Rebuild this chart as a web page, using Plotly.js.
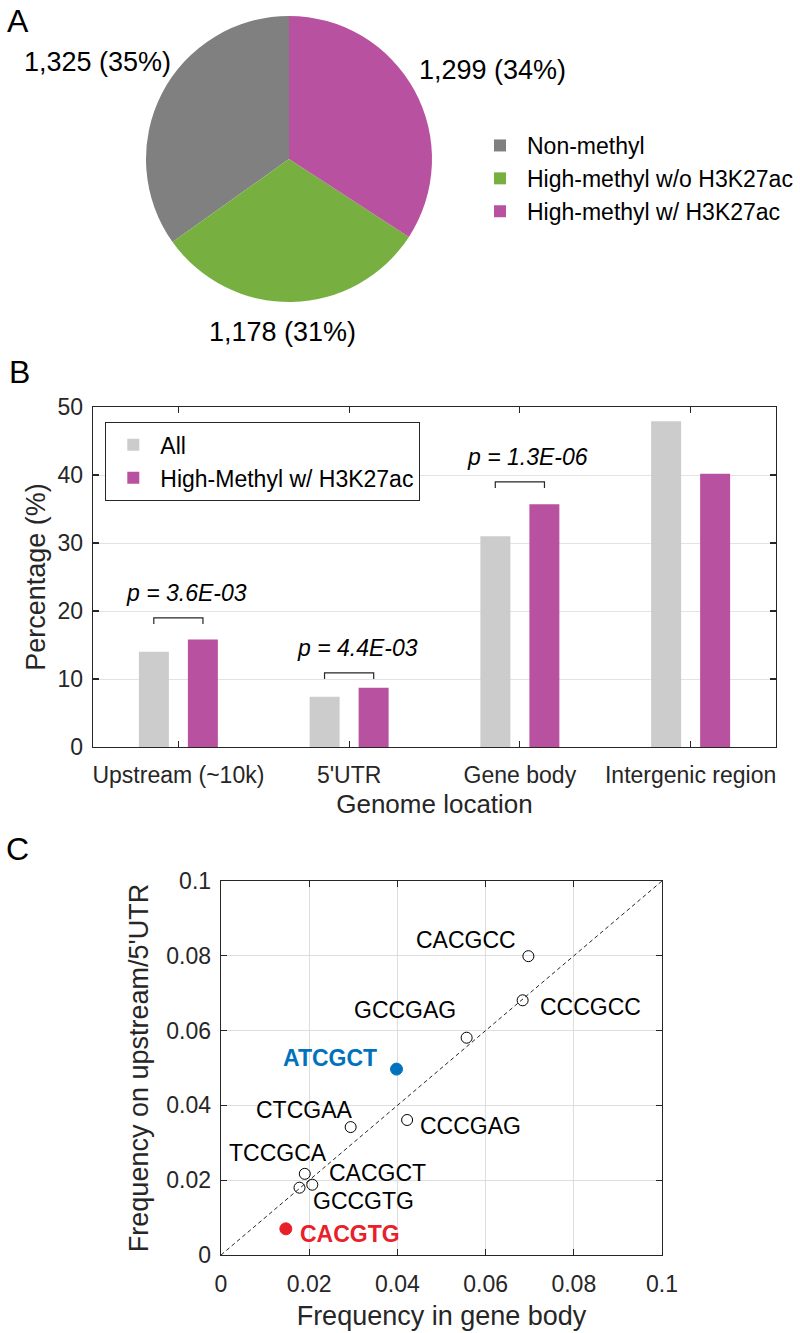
<!DOCTYPE html>
<html><head><meta charset="utf-8">
<script src="https://cdn.plot.ly/plotly-3.0.1.min.js"></script>
<style>html,body{margin:0;padding:0;background:#fff}</style>
</head><body><div id="chart" style="width:800px;height:1333px"></div>
<script>
// ---- Panel A: pie ----
const pieLabels = ['Non-methyl', 'High-methyl w/o H3K27ac', 'High-methyl w/ H3K27ac'];
const pieValues = [1325, 1178, 1299];

// ---- Panel B: grouped bars ----
const locations = ['Upstream (~10k)', "5'UTR", 'Gene body', 'Intergenic region'];
const pctAll = [14.0, 7.4, 31.0, 47.9];
const pctHigh = [15.8, 8.7, 35.7, 40.2];
const barNames = ['All', 'High-Methyl w/ H3K27ac'];
const pLocations = ['Upstream (~10k)', "5'UTR", 'Gene body'];
const pTexts = ['p = 3.6E-03', 'p = 4.4E-03', 'p = 1.3E-06'];
const bracketLevels = [19.0, 10.9, 39.0];

// ---- Panel C: scatter ----
const motifs = ['CACGCC', 'CCCGCC', 'GCCGAG', 'ATCGCT', 'CTCGAA', 'CCCGAG', 'TCCGCA', 'CACGCT', 'GCCGTG', 'CACGTG'];
const freqGeneBody = [0.0697, 0.0684, 0.0557, 0.0398, 0.0294, 0.0422, 0.0190, 0.0207, 0.0178, 0.0147];
const freqUpstream = [0.0799, 0.0681, 0.0581, 0.0497, 0.0342, 0.0361, 0.0217, 0.0188, 0.0180, 0.0070];
const diagX = [0, 0.1];
const diagY = [0, 0.1];

// ---- styles ----
const FONT = 'Liberation Sans, Arial, Helvetica, sans-serif';
const INK = '#262626';
const pieColors = ['#808080', '#77b040', '#b852a0'];
const barColors = ['#cccccc', '#b852a0'];
const highlight = {ATCGCT: '#0072bd', CACGTG: '#e8202a'};
// label offsets (px) from each point: [dx, dy(down)]
const labelShift = [[-62, -16], [68, 7], [-62, -28], [-67, -11], [-46, -17], [63, 6], [-27, -21], [65, -12], [64, 13], [64, 5]];
const W = 800, H = 1333;
const px = v => v / W, py = v => 1 - v / H;

const total = pieValues.reduce((a, b) => a + b, 0);
const pieText = pieValues.map(v => v.toLocaleString('en-US') + ' (' + Math.round(100 * v / total) + '%)');

const traces = [];
traces.push({
  type: 'pie', labels: pieLabels, values: pieValues, sort: false,
  direction: 'counterclockwise', rotation: -360 * pieValues[0] / total,
  marker: {colors: pieColors, line: {width: 0}},
  textinfo: 'none', hoverinfo: 'label+value+percent',
  domain: {x: [px(146), px(432)], y: [py(302), py(16)]},
  legend: 'legend'
});
traces.push({type: 'bar', name: barNames[0], x: locations, y: pctAll, marker: {color: barColors[0]},
  xaxis: 'x', yaxis: 'y', legend: 'legend2'});
traces.push({type: 'bar', name: barNames[1], x: locations, y: pctHigh, marker: {color: barColors[1]},
  xaxis: 'x', yaxis: 'y', legend: 'legend2'});
traces.push({type: 'scatter', mode: 'lines', x: diagX, y: diagY, xaxis: 'x2', yaxis: 'y2',
  line: {color: INK, width: 1, dash: '4px,3px'}, showlegend: false, hoverinfo: 'skip'});
traces.push({type: 'scatter', mode: 'markers', x: freqGeneBody, y: freqUpstream, text: motifs,
  xaxis: 'x2', yaxis: 'y2', showlegend: false,
  marker: {
    opacity: 1,
    size: motifs.map(m => highlight[m] ? 12 : 11),
    color: motifs.map(m => highlight[m] || 'rgba(0,0,0,0)'),
    line: {color: motifs.map(m => highlight[m] || '#000000'), width: 1}
  }});

const annotations = [];
// panel letters
[['A', 18, 21], ['B', 19, 372], ['C', 17, 849]].forEach(([t, x, y]) => annotations.push({
  text: t, xref: 'paper', yref: 'paper', x: px(x), y: py(y), xanchor: 'center', yanchor: 'middle',
  showarrow: false, font: {size: 32, color: '#000'}}));
// pie value labels
const pieLabelPos = [[97, 62], [282, 332], [492, 70]];
pieText.forEach((t, i) => annotations.push({
  text: t, xref: 'paper', yref: 'paper', x: px(pieLabelPos[i][0]), y: py(pieLabelPos[i][1]),
  xanchor: 'center', yanchor: 'middle', showarrow: false, font: {size: 27, color: '#000'}}));
// p-values
pLocations.forEach((loc, i) => annotations.push({
  text: '<i>' + pTexts[i] + '</i>', xref: 'x', yref: 'y', x: locations.indexOf(loc), y: bracketLevels[i],
  xanchor: 'center', yanchor: 'middle', xshift: 8, yshift: 25, showarrow: false,
  font: {size: 23, color: '#000'}}));
// motif labels
motifs.forEach((m, i) => annotations.push({
  text: highlight[m] ? '<b>' + m + '</b>' : m, xref: 'x2', yref: 'y2', x: freqGeneBody[i], y: freqUpstream[i],
  xanchor: 'center', yanchor: 'middle', xshift: labelShift[i][0], yshift: -labelShift[i][1],
  showarrow: false, font: {size: 23, color: highlight[m] || '#000'}}));

// brackets
const half = 0.144, leg = 0.9;
const shapes = pLocations.map((loc, i) => {
  const c = locations.indexOf(loc), lv = bracketLevels[i];
  return {type: 'path', xref: 'x', yref: 'y',
    path: `M${c - half},${lv - leg} L${c - half},${lv} L${c + half},${lv} L${c + half},${lv - leg}`,
    line: {color: INK, width: 1.2}};
});

const axisCommon = {
  showline: true, mirror: 'ticks', linecolor: INK, linewidth: 1.3,
  ticks: 'inside', ticklen: 6, tickcolor: INK, tickwidth: 1.2,
  tickfont: {size: 23, color: INK, family: FONT}, zeroline: false, fixedrange: true
};

const layout = {
  width: W, height: H, margin: {l: 0, r: 0, t: 0, b: 0},
  paper_bgcolor: '#fff', plot_bgcolor: '#fff',
  font: {family: FONT, color: '#000', size: 23},
  barmode: 'group', bargap: 0.426, bargroupgap: 0.388,
  legend: {x: px(473), y: py(124), xanchor: 'left', yanchor: 'top', bgcolor: 'rgba(0,0,0,0)',
    font: {size: 23, color: '#000'}, traceorder: 'normal', tracegroupgap: 0, itemwidth: 44},
  legend2: {x: px(105), y: py(422), xanchor: 'left', yanchor: 'top', bgcolor: '#fff',
    bordercolor: INK, borderwidth: 1.3, font: {size: 23, color: '#000'}, itemwidth: 44},
  xaxis: Object.assign({}, axisCommon, {domain: [px(93), px(776)], anchor: 'y', type: 'category',
    range: [-0.5, 3.5], showgrid: false, ticklabelstandoff: 7,
    title: {text: 'Genome location', font: {size: 26, color: INK}, standoff: 8}}),
  yaxis: Object.assign({}, axisCommon, {domain: [py(747), py(407)], anchor: 'x', range: [0, 50], dtick: 10,
    showgrid: true, gridcolor: '#e3e3e3', gridwidth: 1, ticklabelstandoff: 4,
    title: {text: 'Percentage (%)', font: {size: 27, color: INK}, standoff: 4}}),
  xaxis2: Object.assign({}, axisCommon, {domain: [px(221), px(662)], anchor: 'y2', range: [0, 0.1], dtick: 0.02,
    showgrid: true, gridcolor: '#dedede', gridwidth: 1, ticklabelstandoff: 8,
    title: {text: 'Frequency in gene body', font: {size: 27, color: INK}, standoff: 10}}),
  yaxis2: Object.assign({}, axisCommon, {domain: [py(1255), py(881)], anchor: 'x2', range: [0, 0.1], dtick: 0.02,
    showgrid: true, gridcolor: '#dedede', gridwidth: 1, ticklabelstandoff: 4,
    title: {text: "Frequency on upstream/5'UTR", font: {size: 27, color: INK}, standoff: 10}}),
  annotations: annotations, shapes: shapes
};

Plotly.newPlot('chart', traces, layout, {staticPlot: true, displayModeBar: false});
</script></body></html>
